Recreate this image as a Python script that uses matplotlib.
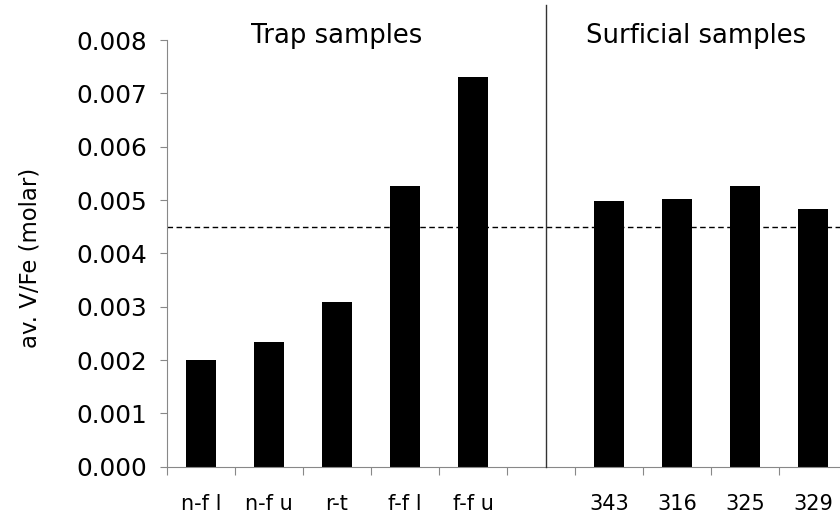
import numpy as np
import matplotlib
matplotlib.use("Agg")
import matplotlib.pyplot as plt

plt.rcParams['font.family'] = ['DejaVu Sans']

# sample groups share one axis; slot 5 is left empty as a spacer
labels = ["n-f l", "n-f u", "r-t", "f-f l", "f-f u", "", "343", "316", "325", "329"]
vfe = [0.00200, 0.00233, 0.00308, 0.00526, 0.00731, np.nan,
       0.00499, 0.00501, 0.00526, 0.00483]
reference_level = 0.00449
group_titles = ["Trap samples", "Surficial samples"]

fig = plt.figure(figsize=(8.4, 5.17), dpi=100)
ax = fig.add_axes([167 / 840, 50.3 / 517, 680 / 840, 426.7 / 517])

x = np.arange(len(labels))
vals = np.array(vfe)
mask = ~np.isnan(vals)
ax.bar(x[mask], vals[mask], width=0.43, color="black", zorder=2)

# reference level across the whole plot
ax.axhline(reference_level, color="black", lw=1.0, linestyle=(0, (4, 2.5)), zorder=1)

# divider between the two sample groups
ax.plot([5.08, 5.08], [0, 0.00866], color="#333333", lw=1.0, clip_on=False, zorder=3)

ax.text(2.0, 0.00794, group_titles[0], ha="center", va="baseline", fontsize=18.6)
ax.text(7.28, 0.00794, group_titles[1], ha="center", va="baseline", fontsize=18.6)

ax.set_xlim(-0.5, len(labels) - 0.5)
ax.set_ylim(0, 0.008)

ax.set_yticks(np.arange(0, 0.0081, 0.001))
ax.set_yticklabels([f"{v:.3f}" for v in np.arange(0, 0.0081, 0.001)])
ax.tick_params(axis="y", direction="out", length=5, width=0.8, color="#888888",
               labelsize=17.8, pad=9)

# tick marks sit between categories, labels at centres
ax.set_xticks(np.arange(-0.5, len(labels), 1.0))
ax.set_xticklabels([])
ax.set_xticks(x, minor=True)
ax.set_xticklabels(labels, minor=True)
ax.tick_params(axis="x", which="major", direction="out", length=6, width=0.8, color="#888888")
ax.tick_params(axis="x", which="minor", length=0, labelsize=15, pad=20)

ax.set_ylabel("av. V/Fe (molar)", fontsize=16.4)
ax.yaxis.set_label_coords(-0.184, 0.489)

for side in ("top", "right"):
    ax.spines[side].set_visible(False)
for side in ("left", "bottom"):
    ax.spines[side].set_color("#888888")
    ax.spines[side].set_linewidth(0.8)

fig.savefig("out.png", dpi=100)
